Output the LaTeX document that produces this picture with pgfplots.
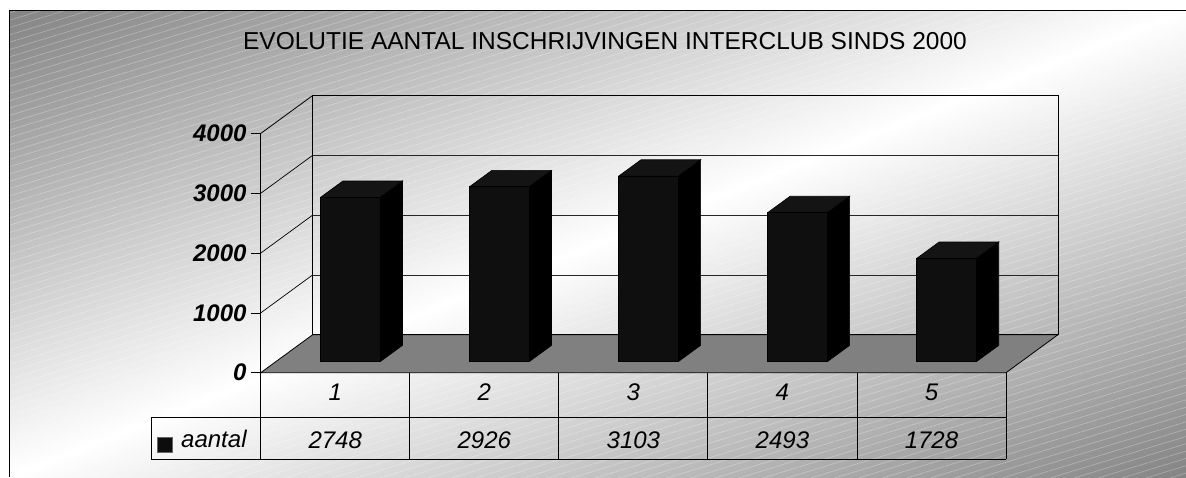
\documentclass[border=0pt]{standalone}
\usepackage{pgfplots}
\pgfplotsset{compat=1.18}
\usepackage{pgfplotstable}
\usetikzlibrary{patterns.meta}
\usepackage{fontspec}
\setmainfont{Liberation Sans}
\pgfdeclareverticalshading{bgshade}{100bp}{color(0bp)=(black!50); color(14.6bp)=(black!48); color(50bp)=(white); color(85.4bp)=(black!48); color(100bp)=(black!50)}

\pgfplotstableread{
cat v
1 2748
2 2926
3 3103
4 2493
5 1728
}\datatable

\def\DX{0.3488}
\def\DY{635.5}
\def\DA{0.29}
\def\DB{0.72}
\def\HW{0.2}

\begin{document}
\begin{tikzpicture}[x=1pt,y=1pt,
  tbl/.style={font=\fontsize{24}{28}\selectfont\itshape, inner sep=0pt}]
\fill[white] (0pt,0pt) rectangle (1186pt,-477pt);
\fill[shading=bgshade, shading angle=45, transform canvas={shift={(9pt,-10pt)}, xscale=11.77, yscale=4.67}] (0pt,-100pt) rectangle (100pt,0pt);
\begin{scope}
\clip (9pt,-10pt) rectangle (1186pt,-477pt);
\fill[pattern={Lines[angle=17, distance=7pt, line width=0.7pt]}, pattern color=white, opacity=0.28] (9pt,-10pt) rectangle (1186pt,-477pt);
\end{scope}
\draw[line width=1pt] (1186pt,-10pt) -- (9pt,-10pt) -- (9pt,-477pt);
\node[font=\fontsize{24.5}{28}\selectfont] at (605pt,-41pt) {EVOLUTIE AANTAL INSCHRIJVINGEN INTERCLUB SINDS 2000};
\begin{axis}[
  at={(260.7pt,-372.7pt)}, anchor=south west,
  scale only axis, width=797.3pt, height=277.2pt,
  xmin=0, xmax=5.3488, ymin=0, ymax=4635.5,
  clip=false,
  axis line style={draw=none},
  xtick=\empty,
  ytick={0,1000,2000,3000,4000},
  ytick pos=left,
  tick align=outside,
  major tick length=10pt,
  ytick style={black, line width=0.8pt},
  yticklabel style={font=\fontsize{24}{28}\selectfont\bfseries\itshape, inner xsep=4pt},
  /pgf/number format/assume math mode=true,
  /pgf/number format/1000 sep={},
]
% floor
\fill[black!50, draw=black, line width=0.8pt] (axis cs:0,0) -- (axis cs:5,0) -- (axis cs:5.3488,635.5) -- (axis cs:0.3488,635.5) -- cycle;
% back wall
\draw[line width=0.8pt] (axis cs:0.3488,635.5) rectangle (axis cs:5.3488,4635.5);
\foreach \g in {1635.5,2635.5,3635.5} {
  \edef\tmp{\noexpand\draw[line width=0.7pt, black!85] (axis cs:0.3488,\g) -- (axis cs:5.3488,\g);}\tmp
}
% left wall
\draw[line width=0.7pt] (axis cs:0,1000) -- (axis cs:0.3488,1635.5);
\draw[line width=0.7pt] (axis cs:0,2000) -- (axis cs:0.3488,2635.5);
\draw[line width=0.7pt] (axis cs:0,3000) -- (axis cs:0.3488,3635.5);
\draw[line width=0.8pt] (axis cs:0,4000) -- (axis cs:0.3488,4635.5);
\draw[line width=0.8pt] (axis cs:0,4000) -- (axis cs:0,-1443);
% bars
\pgfplotsinvokeforeach{0,...,4}{
  \pgfplotstablegetelem{#1}{v}\of\datatable
  \pgfmathsetmacro\bv{\pgfplotsretval}
  \pgfmathsetmacro\xL{#1+0.5-\HW+\DA*\DX}
  \pgfmathsetmacro\xR{#1+0.5+\HW+\DA*\DX}
  \pgfmathsetmacro\xLb{#1+0.5-\HW+\DB*\DX}
  \pgfmathsetmacro\xRb{#1+0.5+\HW+\DB*\DX}
  \pgfmathsetmacro\yB{\DA*\DY}
  \pgfmathsetmacro\yT{\bv+\DA*\DY}
  \pgfmathsetmacro\yBb{\DB*\DY}
  \pgfmathsetmacro\yTb{\bv+\DB*\DY}
  \edef\temp{%
    \noexpand\addplot[fill=black, draw=black, line width=0.6pt] coordinates {(\xR,\yB) (\xRb,\yBb) (\xRb,\yTb) (\xR,\yT) (\xR,\yB)};
    \noexpand\addplot[fill=black!92, draw=black, line width=0.6pt] coordinates {(\xL,\yT) (\xR,\yT) (\xRb,\yTb) (\xLb,\yTb) (\xL,\yT)};
    \noexpand\addplot[fill=black!94, draw=black, line width=0.6pt] coordinates {(\xL,\yB) (\xR,\yB) (\xR,\yT) (\xL,\yT) (\xL,\yB)};
  }%
  \temp
}
% data table
\draw[line width=0.8pt] (axis cs:-0.736,-741) -- (axis cs:5,-741);
\draw[line width=0.8pt] (axis cs:-0.736,-1443) -- (axis cs:5,-1443);
\draw[line width=0.8pt] (axis cs:-0.736,-741) -- (axis cs:-0.736,-1443);
\foreach \k in {1,2,3,4,5} {
  \edef\tmp{\noexpand\draw[line width=0.8pt] (axis cs:\k,0) -- (axis cs:\k,-1443);}\tmp
}
\pgfplotsinvokeforeach{0,...,4}{
  \pgfplotstablegetelem{#1}{cat}\of\datatable
  \edef\temp{\noexpand\node[tbl] at (axis cs:#1+0.5,-331) {\pgfplotsretval};}\temp
  \pgfplotstablegetelem{#1}{v}\of\datatable
  \edef\temp{\noexpand\node[tbl] at (axis cs:#1+0.5,-1125) {\pgfplotsretval};}\temp
}
\fill[black!95, draw=black!60, line width=0.5pt] (axis cs:-0.696,-1075) rectangle (axis cs:-0.595,-1326);
\node[tbl, anchor=base west] at (axis cs:-0.5346,-1259) {aantal};
\end{axis}
\pgfresetboundingbox
\useasboundingbox (0pt,0pt) rectangle (1186pt,-477pt);
\end{tikzpicture}
\end{document}
